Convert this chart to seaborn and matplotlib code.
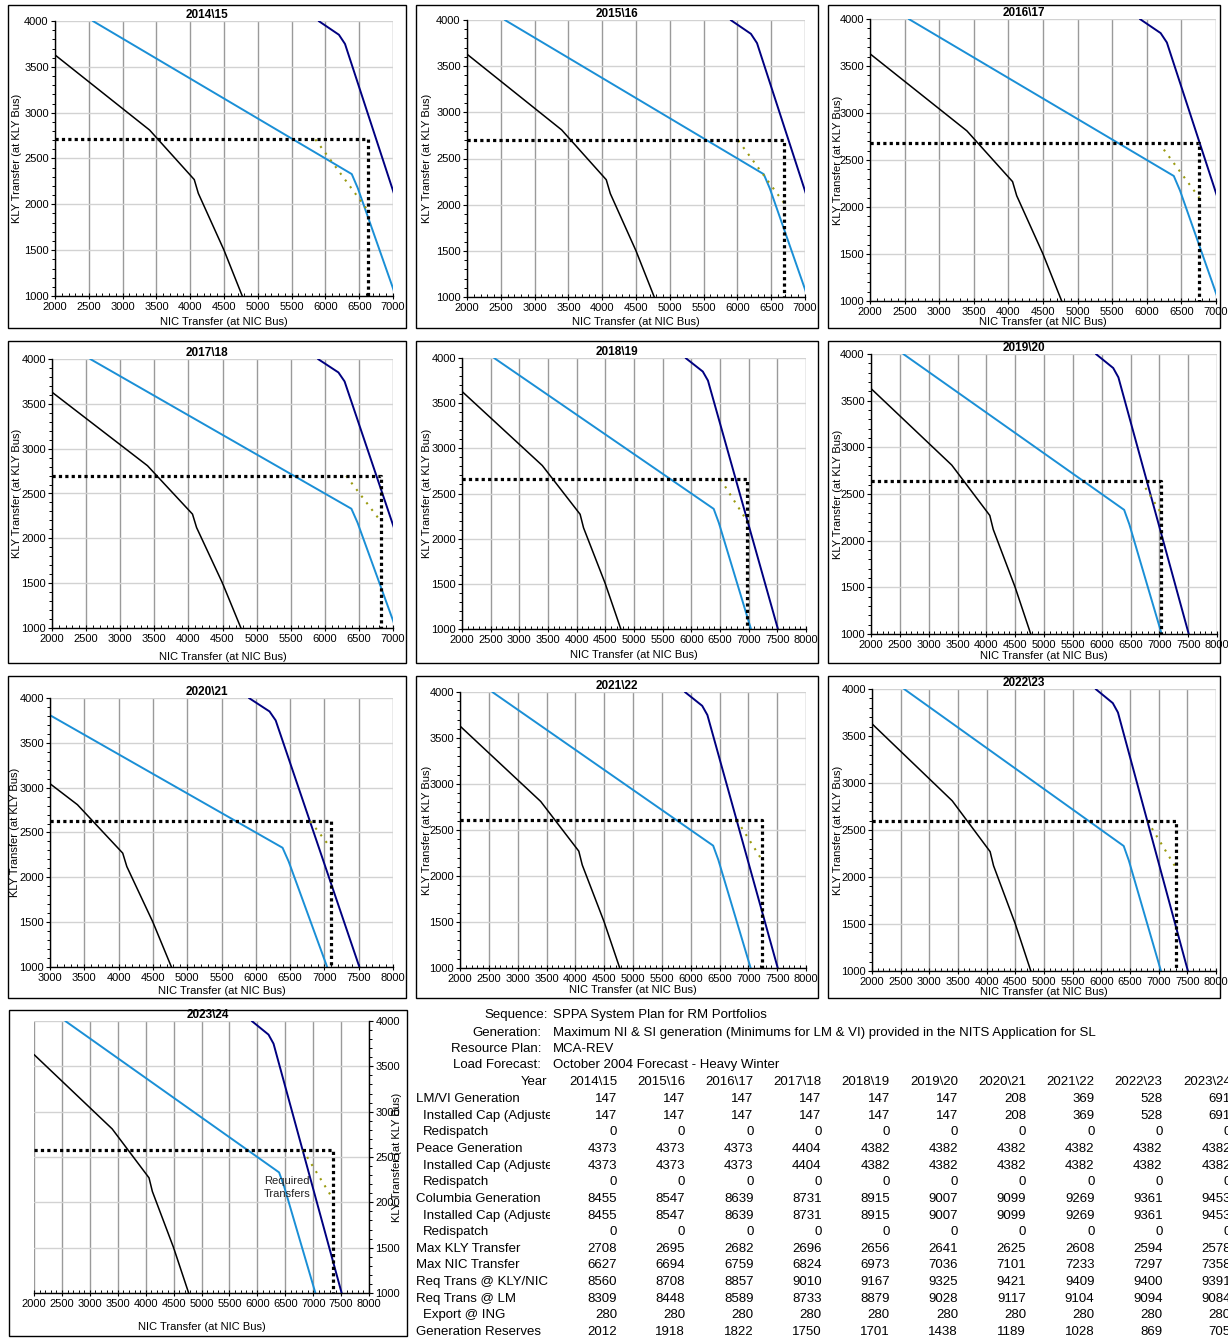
import matplotlib
matplotlib.use("Agg")
import matplotlib.pyplot as plt
import seaborn as sns
from matplotlib.ticker import MultipleLocator, NullFormatter
from matplotlib.patches import Rectangle
from matplotlib.transforms import Bbox, TransformedBbox

# ---------------------------------------------------------------- data
years = ["2014\\15", "2015\\16", "2016\\17", "2017\\18", "2018\\19",
         "2019\\20", "2020\\21", "2021\\22", "2022\\23", "2023\\24"]

lmvi_gen = [147, 147, 147, 147, 147, 147, 208, 369, 528, 691]
lmvi_cap = [147, 147, 147, 147, 147, 147, 208, 369, 528, 691]
lmvi_redispatch = [0, 0, 0, 0, 0, 0, 0, 0, 0, 0]
peace_gen = [4373, 4373, 4373, 4404, 4382, 4382, 4382, 4382, 4382, 4382]
peace_cap = [4373, 4373, 4373, 4404, 4382, 4382, 4382, 4382, 4382, 4382]
peace_redispatch = [0, 0, 0, 0, 0, 0, 0, 0, 0, 0]
columbia_gen = [8455, 8547, 8639, 8731, 8915, 9007, 9099, 9269, 9361, 9453]
columbia_cap = [8455, 8547, 8639, 8731, 8915, 9007, 9099, 9269, 9361, 9453]
columbia_redispatch = [0, 0, 0, 0, 0, 0, 0, 0, 0, 0]
max_kly = [2708, 2695, 2682, 2696, 2656, 2641, 2625, 2608, 2594, 2578]
max_nic = [6627, 6694, 6759, 6824, 6973, 7036, 7101, 7233, 7297, 7358]
req_kly_nic = [8560, 8708, 8857, 9010, 9167, 9325, 9421, 9409, 9400, 9391]
req_lm = [8309, 8448, 8589, 8733, 8879, 9028, 9117, 9104, 9094, 9084]
export_ing = [280, 280, 280, 280, 280, 280, 280, 280, 280, 280]
gen_reserves = [2012, 1918, 1822, 1750, 1701, 1438, 1189, 1028, 869, 705]

# transfer limit curves (NIC transfer, KLY transfer)
limit_a_nic = [2000, 3400, 4060, 4120, 4500, 4770]
limit_a_kly = [3630, 2810, 2270, 2120, 1500, 1000]
limit_b_nic = [2560, 6390, 6480, 7040]
limit_b_kly = [4000, 2330, 2175, 1000]
limit_c_nic = [5900, 6200, 6290, 7510]
limit_c_kly = [4000, 3850, 3750, 1000]

nic_ranges = [(2000, 7000), (2000, 7000), (2000, 7000), (2000, 7000),
              (2000, 8000), (2000, 8000), (3000, 8000), (2000, 8000),
              (2000, 8000), (2000, 8000)]

table_rows = [
    ("LM/VI Generation", lmvi_gen, 0),
    ("Installed Cap (Adjusted)", lmvi_cap, 1),
    ("Redispatch", lmvi_redispatch, 1),
    ("Peace Generation", peace_gen, 0),
    ("Installed Cap (Adjusted)", peace_cap, 1),
    ("Redispatch", peace_redispatch, 1),
    ("Columbia Generation", columbia_gen, 0),
    ("Installed Cap (Adjusted)", columbia_cap, 1),
    ("Redispatch", columbia_redispatch, 1),
    ("Max KLY Transfer", max_kly, 0),
    ("Max NIC Transfer", max_nic, 0),
    ("Req Trans @ KLY/NIC", req_kly_nic, 0),
    ("Req Trans @ LM", req_lm, 0),
    ("Export @ ING", export_ing, 1),
    ("Generation Reserves", gen_reserves, 0),
]

# ---------------------------------------------------------------- layout (pixels)
W, H = 1228, 1338
# plot rect (l, t, r, b), frame rect, x-label y, y-label x
panels = [
    ((55, 21, 393, 296), (8, 5, 406, 328), 322, 17),
    ((467, 20, 805, 297), (416, 5, 818, 328), 322, 427),
    ((870, 19, 1216, 301), (828, 5, 1220, 328), 322, 838),
    ((52, 359, 393, 628), (8, 341, 406, 663), 657, 17),
    ((462, 358, 806, 629), (416, 341, 818, 663), 655, 427),
    ((871, 354, 1217, 634), (828, 341, 1220, 663), 656, 838),
    ((50, 698, 393, 967), (8, 676, 406, 998), 991, 15),
    ((460, 692, 806, 968), (416, 676, 818, 998), 990, 427),
    ((872, 689, 1216, 971), (828, 676, 1220, 998), 992, 838),
    ((34, 1021, 369, 1293), (9, 1010, 407, 1336), 1327, 397),
]

sns.set_theme(style="white")
plt.rcParams["font.family"] = ["Liberation Sans", "DejaVu Sans"]

LIGHT_BLUE = "#1a8fd6"
NAVY = "#000080"
OLIVE = "#9a9a10"

fig = plt.figure(figsize=(W / 100, H / 100), dpi=100)
fig.patch.set_facecolor("white")


def fx(x):
    return x / W


def fy(y):
    return 1 - y / H


for i, (prect, frect, xlab_y, ylab_x) in enumerate(panels):
    l, t, r, b = prect
    ax = fig.add_axes([fx(l), fy(b), (r - l) / W, (b - t) / H])
    ax.set_facecolor("white")
    xlo, xhi = nic_ranges[i]
    right_axis = i == 9

    # limit curves
    sns.lineplot(x=limit_a_nic, y=limit_a_kly, sort=False, estimator=None,
                 color="black", lw=1.1, ax=ax)
    sns.lineplot(x=limit_b_nic, y=limit_b_kly, sort=False, estimator=None,
                 color=LIGHT_BLUE, lw=1.4, ax=ax)
    sns.lineplot(x=limit_c_nic, y=limit_c_kly, sort=False, estimator=None,
                 color=NAVY, lw=1.4, ax=ax)

    # required transfer line (KLY + NIC = requirement)
    req = req_kly_nic[i]
    sns.lineplot(x=[req - max_kly[i], max_nic[i]], y=[max_kly[i], req - max_nic[i]],
                 sort=False, estimator=None, color=OLIVE, lw=1.5, ax=ax)
    ax.lines[-1].set_dashes((1, 3))

    # maximum transfer envelope
    sns.lineplot(x=[xlo, max_nic[i], max_nic[i]], y=[max_kly[i], max_kly[i], 1000],
                 sort=False, estimator=None, color="black", lw=2.3, ax=ax)
    ax.lines[-1].set_linestyle((2.0, (1, 1)))
    ax.lines[-1].set_solid_capstyle("butt")
    ax.lines[-1].set_dash_capstyle("butt")

    ax.set_xlim(xlo, xhi)
    ax.set_ylim(1000, 4000)
    ax.xaxis.set_major_locator(MultipleLocator(500))
    ax.xaxis.set_minor_locator(MultipleLocator(100))
    ax.yaxis.set_major_locator(MultipleLocator(500))
    ax.yaxis.set_minor_locator(MultipleLocator(100))
    ax.grid(axis="x", which="major", color="#9a9a9a", lw=1.0)
    ax.grid(axis="y", which="major", color="#d2d2d2", lw=1.0)
    ax.set_axisbelow(True)
    ax.set_xlabel("")
    ax.set_ylabel("")

    for s in ax.spines.values():
        s.set_visible(False)
    ax.spines["bottom"].set_visible(True)
    ax.spines["bottom"].set_color("black")
    ax.spines["bottom"].set_linewidth(1.0)
    side = "right" if right_axis else "left"
    ax.spines[side].set_visible(True)
    ax.spines[side].set_color("black")
    ax.spines[side].set_linewidth(1.0)
    if right_axis:
        ax.yaxis.tick_right()

    ax.tick_params(axis="x", which="major", direction="inout", length=4, width=0.8,
                   pad=2.5, labelsize=8, colors="black", bottom=True)
    ax.tick_params(axis="x", which="minor", direction="in", length=2.5, width=0.7,
                   bottom=True, colors="black")
    ax.tick_params(axis="y", which="major", direction="out", length=3, width=0.8,
                   pad=1.5, labelsize=8, colors="black",
                   left=not right_axis, right=right_axis)
    ax.tick_params(axis="y", which="minor", direction="out", length=2, width=0.7,
                   left=not right_axis, right=right_axis, colors="black")

    # chart frame
    fl, ft, fr, fb = frect
    fig.patches.append(Rectangle((fx(fl), fy(fb)), (fr - fl) / W, (fb - ft) / H,
                                 transform=fig.transFigure, fill=False,
                                 ec="black", lw=1.0, zorder=10))
    # titles and axis labels
    fig.text(fx((fl + fr) / 2), fy(t) , years[i], ha="center", va="bottom",
             fontsize=8.5, fontweight="bold", color="black")
    fig.text(fx((l + r) / 2), fy(xlab_y), "NIC Transfer (at NIC Bus)",
             ha="center", va="center", fontsize=8, color="black")
    fig.text(fx(ylab_x), fy((t + b) / 2), "KLY Transfer (at KLY Bus)",
             ha="center", va="center", rotation=90, fontsize=8, color="black")

    if right_axis:
        ax.text(6530, 2160, "Required\nTransfers", ha="center", va="center",
                fontsize=8, color="#222222", linespacing=1.35)

# ---------------------------------------------------------------- summary table
FS = 9.5
header = [
    ("Sequence:", "SPPA System Plan for RM Portfolios", 548, 1015),
    ("Generation:", "Maximum NI & SI generation (Minimums for LM & VI) provided in the NITS Application for SL", 541, 1033),
    ("Resource Plan:", "MCA-REV", 541, 1049),
    ("Load Forecast:", "October 2004 Forecast - Heavy Winter", 541, 1065),
]
for key, val, xr, yy in header:
    fig.text(fx(xr), fy(yy), key, ha="right", va="center", fontsize=FS, color="black")
    fig.text(fx(553), fy(yy), val, ha="left", va="center", fontsize=FS, color="black")

col_right = [617 + 68.2 * k for k in range(len(years))]
fig.text(fx(547), fy(1082), "Year", ha="right", va="center", fontsize=FS, color="black")
for k, yr in enumerate(years):
    fig.text(fx(col_right[k]), fy(1082), yr, ha="right", va="center", fontsize=FS,
             color="black")

label_clip = TransformedBbox(Bbox.from_extents(fx(410), fy(1338), fx(550), fy(1090)),
                             fig.transFigure)
row_y0, row_dy = 1099, 16.65
for j, (name, vals, indent) in enumerate(table_rows):
    yy = row_y0 + j * row_dy
    lbl = fig.text(fx(416 + 7 * indent), fy(yy), name, ha="left", va="center",
                   fontsize=FS, color="black")
    lbl.set_clip_box(label_clip)
    lbl.set_clip_on(True)
    for k, v in enumerate(vals):
        fig.text(fx(col_right[k]), fy(yy), f"{v}", ha="right", va="center",
                 fontsize=FS, color="black")

fig.savefig("out.png", dpi=100, facecolor="white")
